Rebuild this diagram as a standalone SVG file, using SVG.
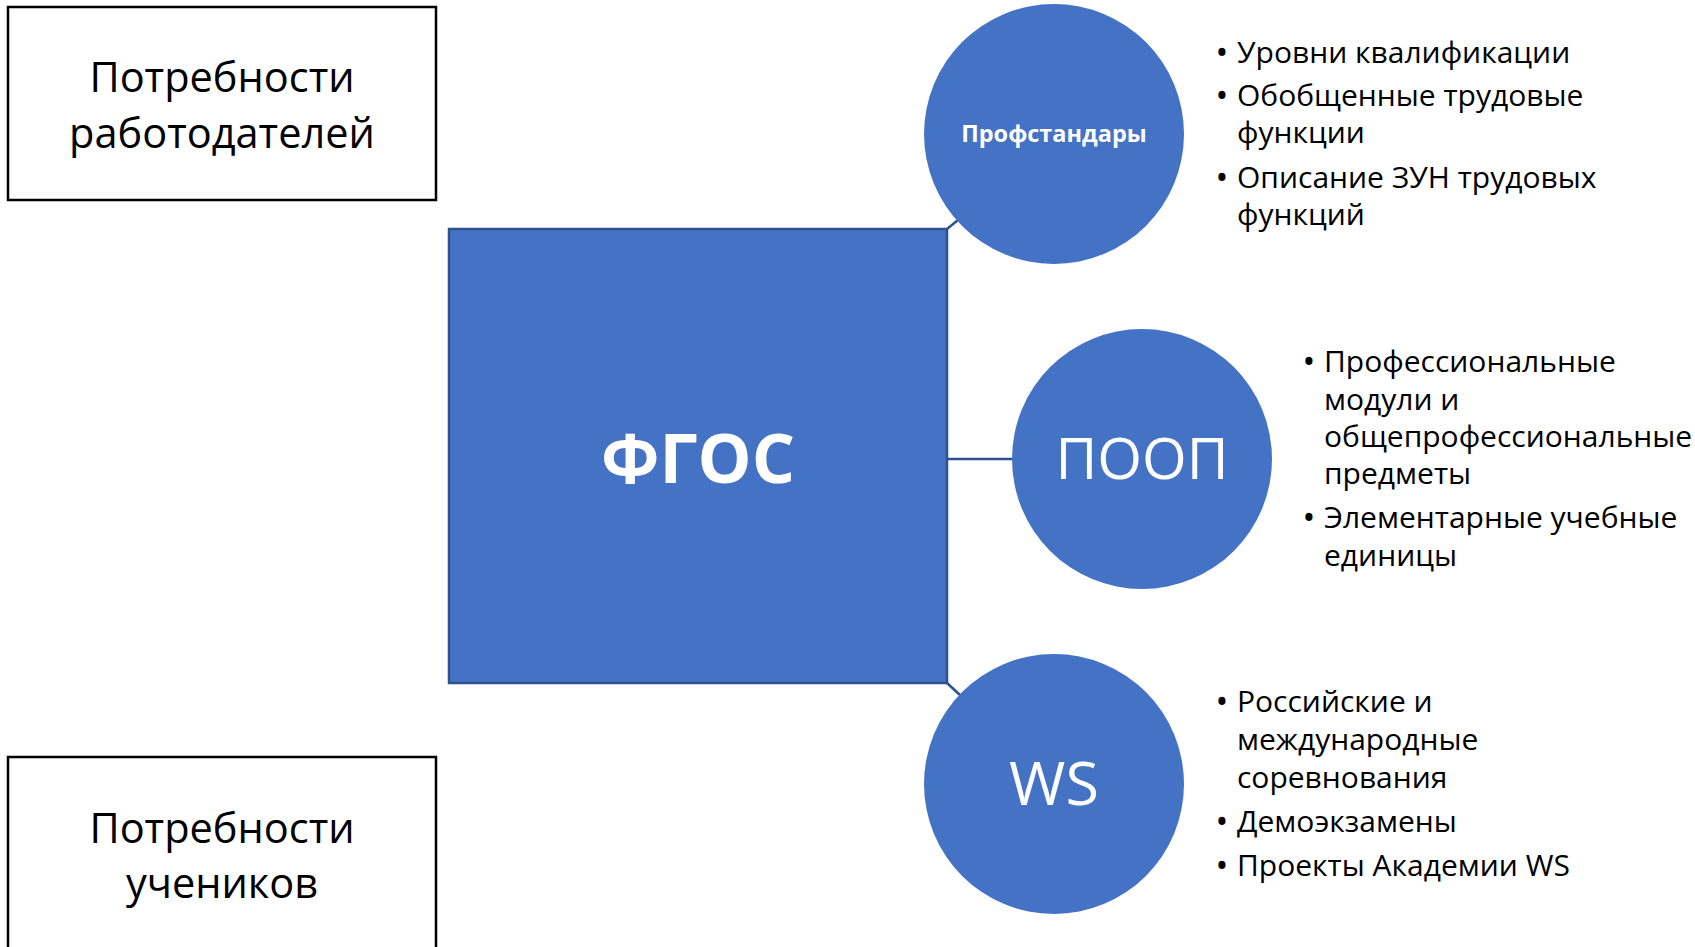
<svg xmlns="http://www.w3.org/2000/svg" width="1695" height="947" viewBox="0 0 1695 947">
<style>
  text { font-family: "Open Sans", "Noto Sans", "DejaVu Sans", sans-serif; }
  .box { fill: #ffffff; stroke: #000000; stroke-width: 2.5; }
  .boxtxt { font-size: 41.5px; fill: #000000; text-anchor: middle; }
  .main { fill: #4472C4; stroke: #2F528F; stroke-width: 2.5; }
  .circ { fill: #4472C4; }
  .wtxt { fill: #ffffff; text-anchor: middle; }
  .conn { stroke: #2F528F; stroke-width: 2.5; fill: none; }
  .bul { font-size: 30px; fill: #000000; }
  .dot { font-size: 34px; fill: #000000; text-anchor: middle; }
</style>
<rect width="1695" height="947" fill="#ffffff"/>
<g id="connectors">
  <line class="conn" x1="947" y1="229" x2="958" y2="220"/>
  <line class="conn" x1="947" y1="459" x2="1013" y2="459"/>
  <line class="conn" x1="947" y1="683" x2="960" y2="695"/>
</g>
<g id="node-employers">
  <rect class="box" x="8" y="7" width="428" height="193"/>
  <text class="boxtxt" x="222" y="92">Потребности</text>
  <text class="boxtxt" x="222" y="148">работодателей</text>
</g>
<g id="node-students">
  <rect class="box" x="8" y="757" width="428" height="260"/>
  <text class="boxtxt" x="222" y="843">Потребности</text>
  <text class="boxtxt" x="222" y="898">учеников</text>
</g>
<g id="node-fgos">
  <rect class="main" x="449" y="229" width="498" height="454"/>
  <text class="wtxt" x="698" y="483" font-size="68" font-weight="700">ФГОС</text>
</g>
<g id="node-profstandard">
  <circle class="circ" cx="1054" cy="134" r="130"/>
  <text class="wtxt" x="1054" y="142" font-size="23.5" font-weight="700">Профстандары</text>
</g>
<g id="node-poop">
  <circle class="circ" cx="1142" cy="459" r="130"/>
  <text class="wtxt" x="1142" y="479" font-size="57.5">ПООП</text>
</g>
<g id="node-ws">
  <circle class="circ" cx="1054" cy="784" r="130"/>
  <text class="wtxt" x="1054" y="805" font-size="61">WS</text>
</g>
<g id="list-profstandard">
  <text class="dot" x="1222" y="65">•</text>
  <text class="bul" x="1237" y="63">Уровни квалификации</text>
  <text class="dot" x="1222" y="108">•</text>
  <text class="bul" x="1237" y="106">Обобщенные трудовые</text>
  <text class="bul" x="1237" y="143">функции</text>
  <text class="dot" x="1222" y="190">•</text>
  <text class="bul" x="1237" y="188">Описание ЗУН трудовых</text>
  <text class="bul" x="1237" y="225">функций</text>
</g>
<g id="list-poop">
  <text class="dot" x="1309" y="374">•</text>
  <text class="bul" x="1324" y="372">Профессиональные</text>
  <text class="bul" x="1324" y="410">модули и</text>
  <text class="bul" x="1324" y="447">общепрофессиональные</text>
  <text class="bul" x="1324" y="484">предметы</text>
  <text class="dot" x="1309" y="530">•</text>
  <text class="bul" x="1324" y="528">Элементарные учебные</text>
  <text class="bul" x="1324" y="566">единицы</text>
</g>
<g id="list-ws">
  <text class="dot" x="1222" y="714">•</text>
  <text class="bul" x="1237" y="712">Российские и</text>
  <text class="bul" x="1237" y="750">международные</text>
  <text class="bul" x="1237" y="788">соревнования</text>
  <text class="dot" x="1222" y="834">•</text>
  <text class="bul" x="1237" y="832">Демоэкзамены</text>
  <text class="dot" x="1222" y="878">•</text>
  <text class="bul" x="1237" y="876">Проекты Академии WS</text>
</g>
</svg>
